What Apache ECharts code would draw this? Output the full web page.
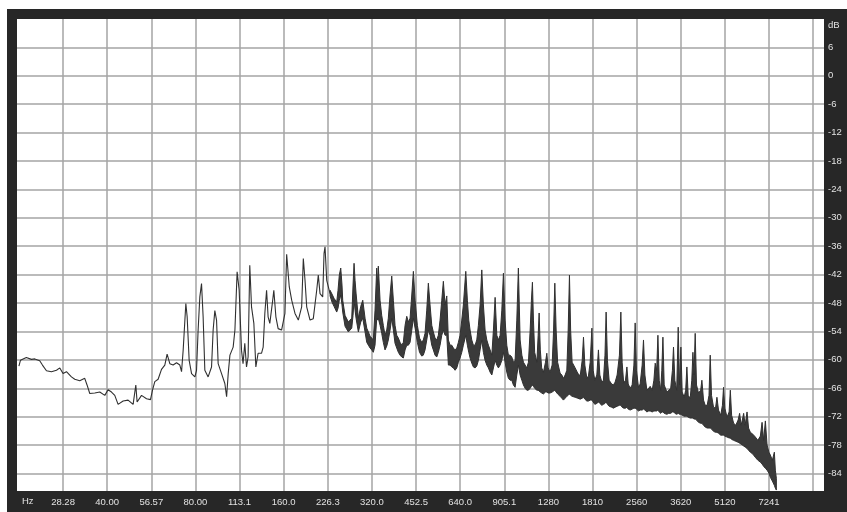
<!DOCTYPE html>
<html>
<head>
<meta charset="utf-8">
<script src="https://cdn.jsdelivr.net/npm/echarts@6/dist/echarts.min.js"></script>
<style>
  html, body { margin: 0; padding: 0; background: #ffffff; }
  #chart { width: 847px; height: 512px; }
</style>
</head>
<body>
<div id="chart"></div>
<script>
// Frequency grid (half-octave steps) and level grid
const tickHz = [28.28, 40.00, 56.57, 80.00, 113.1, 160.0, 226.3, 320.0, 452.5, 640.0, 905.1, 1280, 1810, 2560, 3620, 5120, 7241, 10240];
const tickLabels = ['28.28', '40.00', '56.57', '80.00', '113.1', '160.0', '226.3', '320.0', '452.5', '640.0', '905.1', '1280', '1810', '2560', '3620', '5120', '7241'];
const levelTicksDb = [6, 0, -6, -12, -18, -24, -30, -36, -42, -48, -54, -60, -66, -72, -78, -84];
const rangeHz = [19.7, 11150];
const rangeDb = [-87.7, 12];

// Low-frequency part of the spectrum: a single trace
const lowHz = [20.0, 20.24, 21.2, 22.07, 22.65, 23.55, 24.06, 24.83, 25.82, 26.86,
  27.57, 28.28, 29.05, 30.21, 31.01, 32.25, 33.54, 34.15, 34.89, 36.29,
  37.74, 39.26, 40.28, 41.38, 42.46, 43.58, 45.33, 47.14, 49.04, 50.09,
  50.6, 52.39, 54.49, 56.21, 57.11, 58.15, 59.68, 61.29, 62.9, 64.05,
  65.43, 67.15, 68.97, 70.78, 71.74, 72.65, 74.2, 74.97, 76.16, 77.61,
  79.65, 80.7, 81.72, 82.82, 83.93, 84.99, 86.14, 88.4, 90.8, 91.95,
  93.18, 94.44, 95.64, 98.23, 100.8, 102.2, 103.5, 104.9, 106.3, 107.6,
  109.1, 111.0, 112.8, 114.9, 116.3, 117.9, 119.5, 121.0, 122.6, 124.3,
  126.6, 128.6, 130.9, 134.5, 136.2, 138.0, 139.9, 141.6, 143.5, 146.6,
  148.1, 150.5, 153.2, 157.4, 161.6, 163.8, 167.2, 170.4, 174.9, 179.5,
  184.3, 186.7, 189.2, 191.7, 196.8, 201.9, 207.4, 210.0, 212.9, 217.4,
  219.7, 221.4, 224.4, 230.3];
const lowDb = [-61.3, -60.1, -59.5, -59.9, -59.8, -60.2, -61.1, -62.3, -62.5, -62.2,
  -61.7, -62.9, -62.5, -63.6, -64.1, -64.4, -63.9, -65.3, -67.1, -67.0,
  -66.8, -67.5, -66.3, -66.8, -67.5, -69.4, -68.7, -68.5, -69.4, -65.3,
  -68.9, -67.5, -68.2, -68.4, -66.4, -64.6, -64.1, -62.0, -61.1, -58.8,
  -60.8, -61.1, -60.6, -61.1, -62.5, -58.0, -48.1, -50.9, -60.1, -62.9,
  -63.6, -62.2, -53.7, -46.7, -43.9, -50.9, -62.2, -63.6, -61.5, -53.7,
  -49.6, -51.6, -60.8, -62.9, -65.0, -67.8, -62.9, -59.0, -59.4, -57.3,
  -53.7, -41.4, -45.3, -58.0, -60.8, -56.5, -61.5, -59.4, -40.0, -48.8,
  -52.3, -61.5, -58.6, -58.6, -57.3, -50.2, -45.3, -50.9, -52.3, -47.7,
  -45.3, -50.9, -53.4, -53.7, -50.2, -37.7, -44.6, -47.4, -50.2, -51.6,
  -48.8, -38.6, -43.2, -48.8, -51.6, -51.3, -45.3, -42.1, -46.0, -46.7,
  -37.5, -36.1, -43.2, -46.0];

// Upper part of the spectrum: dense bins shown as a peak/floor envelope
const bandHz = [230.3, 233.9, 237.6, 242.7, 245.2, 247.7, 250.5, 253.0, 254.4, 259.1,
  265.9, 269.5, 273.1, 275.9, 278.1, 280.3, 282.5, 287.7, 293.1, 297.8,
  303.2, 307.3, 311.2, 315.4, 319.5, 323.6, 327.9, 332.3, 334.4, 336.5,
  341.1, 345.6, 350.0, 354.7, 359.5, 364.0, 369.0, 373.9, 378.7, 383.7,
  388.9, 393.8, 399.1, 404.5, 409.6, 415.2, 420.7, 426.1, 431.8, 437.6,
  443.2, 449.2, 457.2, 465.1, 473.2, 479.2, 485.7, 492.2, 498.5, 505.2,
  512.0, 518.4, 525.4, 532.5, 539.2, 546.5, 553.9, 560.9, 568.4, 576.1,
  583.4, 591.2, 599.2, 606.8, 615.0, 623.2, 631.1, 639.5, 648.1, 656.3,
  668.8, 677.3, 684.7, 691.8, 701.1, 710.0, 719.6, 729.2, 738.5, 748.4,
  758.5, 768.1, 778.4, 788.9, 798.9, 809.7, 820.6, 831.0, 842.2, 853.5,
  864.3, 875.9, 887.7, 899.0, 910.8, 923.0, 934.8, 947.3, 960.0, 972.3,
  985.4, 998.6, 1011, 1025, 1039, 1052, 1066, 1080, 1094, 1109,
  1120, 1129, 1138, 1149, 1169, 1181, 1190, 1201, 1214, 1231,
  1251, 1264, 1277, 1297, 1318, 1333, 1346, 1360, 1376, 1403,
  1422, 1440, 1460, 1479, 1495, 1510, 1524, 1542, 1579, 1611,
  1643, 1669, 1686, 1704, 1731, 1753, 1777, 1801, 1819, 1843,
  1872, 1896, 1917, 1947, 1972, 1996, 2014, 2035, 2062, 2103,
  2133, 2162, 2196, 2236, 2261, 2284, 2312, 2345, 2371, 2395,
  2433, 2471, 2505, 2530, 2556, 2597, 2631, 2673, 2701, 2731,
  2774, 2813, 2847, 2892, 2931, 2961, 2996, 3025, 3056, 3092,
  3119, 3146, 3178, 3246, 3293, 3345, 3390, 3419, 3455, 3506,
  3548, 3585, 3623, 3660, 3718, 3762, 3798, 3837, 3898, 3947,
  3982, 4016, 4054, 4096, 4161, 4233, 4273, 4328, 4386, 4455,
  4519, 4562, 4609, 4682, 4756, 4809, 4869, 4954, 5021, 5065,
  5116, 5206, 5292, 5342, 5397, 5483, 5578, 5680, 5747, 5816,
  5871, 5932, 6002, 6092, 6165, 6252, 6376, 6503, 6632, 6764,
  6855, 6942, 7035, 7130, 7232, 7316, 7432, 7549, 7609, 7669];
const bandPeakDb = [-45.3, -46.1, -47.0, -47.8, -45.3, -42.1, -40.6, -44.2, -47.4, -50.6,
  -52.0, -51.6, -51.2, -44.2, -39.6, -43.2, -45.9, -51.2, -48.7, -47.4,
  -51.2, -53.3, -54.1, -55.0, -55.4, -55.8, -49.5, -40.6, -44.2, -40.2,
  -47.4, -50.6, -52.7, -54.8, -53.7, -51.2, -46.3, -42.3, -47.4, -52.7,
  -54.8, -55.4, -56.3, -56.9, -56.3, -52.7, -50.8, -52.0, -51.2, -46.3,
  -41.3, -47.4, -52.7, -55.4, -56.3, -55.8, -54.4, -49.5, -43.8, -48.4,
  -52.7, -54.1, -55.4, -55.8, -54.8, -51.6, -47.4, -43.4, -48.4, -46.5,
  -55.8, -56.9, -56.9, -57.5, -57.9, -57.5, -56.3, -54.8, -51.6, -48.4,
  -41.3, -47.4, -51.6, -53.7, -55.8, -56.9, -56.9, -55.8, -52.7, -48.4,
  -41.0, -48.4, -53.7, -55.8, -56.9, -57.9, -59.0, -53.7, -46.8, -54.8,
  -55.8, -54.8, -49.5, -41.7, -51.6, -56.9, -59.0, -59.0, -59.4, -60.5,
  -60.1, -51.6, -40.6, -55.8, -59.0, -60.5, -61.1, -61.7, -60.5, -53.7,
  -47.4, -43.6, -51.6, -58.4, -60.5, -54.8, -50.1, -57.9, -61.7, -62.6,
  -60.5, -58.6, -61.7, -62.6, -61.1, -53.7, -43.8, -53.7, -60.5, -62.8,
  -63.2, -63.9, -63.2, -62.2, -53.7, -42.1, -53.7, -60.5, -61.7, -62.8,
  -63.4, -60.1, -55.2, -61.1, -63.9, -63.4, -60.5, -53.3, -62.2, -64.3,
  -63.2, -57.9, -63.2, -64.7, -64.3, -59.0, -49.9, -60.1, -64.3, -65.1,
  -65.3, -64.7, -63.2, -59.0, -49.9, -60.5, -64.9, -64.3, -61.5, -65.1,
  -66.0, -65.3, -61.1, -52.2, -62.2, -65.8, -65.1, -61.1, -55.8, -63.2,
  -66.4, -66.0, -65.6, -66.4, -64.3, -60.7, -62.2, -54.8, -64.3, -66.4,
  -62.2, -55.2, -65.3, -66.8, -66.4, -66.0, -62.2, -57.3, -64.3, -66.4,
  -53.1, -65.3, -57.3, -66.8, -67.9, -66.4, -61.5, -67.5, -68.1, -64.3,
  -58.4, -63.2, -54.4, -65.3, -67.0, -66.4, -64.3, -68.5, -69.6, -69.6,
  -67.5, -59.0, -67.5, -70.0, -70.2, -67.9, -70.6, -71.7, -69.6, -65.8,
  -70.2, -72.1, -71.0, -66.4, -71.7, -73.4, -73.8, -72.7, -71.3, -73.8,
  -72.7, -71.3, -73.8, -71.0, -74.4, -75.3, -75.7, -76.3, -77.0, -76.1,
  -73.2, -77.0, -72.9, -78.0, -79.5, -80.1, -81.2, -79.5, -83.3, -85.0];
const bandFloorDb = [-46.5, -47.8, -48.7, -49.9, -49.1, -47.4, -46.3, -48.4, -49.9, -52.9,
  -54.1, -53.7, -53.3, -50.6, -47.4, -49.5, -51.2, -54.1, -52.0, -51.2,
  -54.1, -56.3, -56.9, -57.5, -57.9, -58.4, -56.9, -51.2, -51.6, -51.2,
  -52.7, -54.4, -56.3, -57.9, -57.1, -55.8, -53.7, -51.2, -53.7, -56.5,
  -57.5, -58.4, -59.0, -59.4, -59.6, -57.9, -56.9, -56.9, -56.3, -53.7,
  -51.2, -53.3, -56.3, -58.4, -59.2, -59.0, -57.9, -55.8, -53.7, -54.8,
  -56.9, -57.9, -59.0, -59.4, -58.4, -56.9, -54.8, -53.7, -54.8, -54.8,
  -61.1, -61.1, -61.5, -61.7, -62.2, -61.7, -60.5, -59.6, -58.4, -56.9,
  -54.8, -56.9, -58.4, -59.6, -60.7, -61.5, -61.7, -61.3, -60.1, -57.9,
  -55.8, -58.4, -60.1, -61.1, -61.7, -62.6, -63.2, -61.7, -60.1, -61.1,
  -61.7, -61.1, -60.1, -58.4, -60.5, -62.6, -63.9, -64.3, -64.3, -65.3,
  -65.8, -63.2, -61.1, -63.2, -64.3, -65.3, -66.0, -66.4, -66.4, -66.0,
  -65.6, -65.3, -65.6, -66.0, -66.4, -66.4, -66.6, -66.8, -67.0, -67.2,
  -66.8, -66.8, -67.0, -67.0, -66.8, -66.6, -66.4, -66.8, -67.2, -67.7,
  -68.1, -68.5, -68.1, -67.7, -67.5, -67.2, -67.5, -67.7, -67.9, -68.1,
  -68.3, -68.1, -67.9, -68.3, -68.7, -68.7, -68.5, -68.5, -68.9, -69.4,
  -69.2, -68.9, -69.2, -69.6, -69.4, -69.2, -68.9, -69.4, -69.8, -70.0,
  -70.2, -70.0, -69.8, -69.6, -69.6, -70.0, -70.2, -70.2, -70.0, -70.4,
  -70.6, -70.4, -70.2, -70.2, -70.4, -70.8, -70.6, -70.6, -70.4, -70.6,
  -71.0, -70.8, -70.8, -71.0, -70.8, -70.8, -70.8, -70.6, -71.0, -71.3,
  -71.0, -71.0, -71.3, -71.5, -71.3, -71.3, -71.0, -71.0, -71.3, -71.5,
  -71.3, -71.5, -71.5, -71.7, -71.9, -71.9, -71.9, -72.1, -72.3, -72.3,
  -72.3, -72.5, -72.5, -72.7, -73.2, -73.4, -73.4, -73.8, -74.2, -74.4,
  -74.4, -74.4, -74.6, -75.1, -75.3, -75.3, -75.5, -75.9, -75.9, -75.9,
  -76.1, -76.3, -76.5, -76.5, -76.8, -77.0, -77.2, -77.4, -77.6, -77.8,
  -78.0, -78.2, -78.4, -78.7, -79.1, -79.5, -79.9, -80.6, -81.2, -81.6,
  -82.0, -82.5, -82.9, -83.3, -83.9, -84.8, -85.6, -86.5, -87.1, -87.5];

// Position on the logarithmic frequency axis, in half-octaves above 20 Hz
const halfOct = hz => 2 * Math.log2(hz / 20);
const tickPos = tickHz.map(halfOct);

const frameColor = '#272727';
const gridColor = '#a4a4a4';
const traceColor = '#303030';
const labelColor = '#e2e2e2';
const labelFont = 'Liberation Sans, Arial, sans-serif';

const chart = echarts.init(document.getElementById('chart'), null, { renderer: 'canvas' });

chart.setOption({
  animation: false,
  backgroundColor: frameColor,
  grid: {
    left: 17, top: 19, right: 23, bottom: 21,
    show: true, backgroundColor: '#ffffff', borderWidth: 0
  },
  xAxis: {
    type: 'value',
    min: halfOct(rangeHz[0]),
    max: halfOct(rangeHz[1]),
    axisLine: { show: false },
    axisTick: { show: false, customValues: tickPos },
    axisLabel: {
      customValues: tickPos.slice(0, tickLabels.length),
      margin: 6,
      color: labelColor,
      fontSize: 9.5,
      fontFamily: labelFont,
      formatter: v => {
        let best = 0;
        tickPos.forEach((p, i) => { if (Math.abs(p - v) < Math.abs(tickPos[best] - v)) best = i; });
        return tickLabels[best] || '';
      }
    },
    splitLine: { show: true, lineStyle: { color: gridColor, width: 1.5 } }
  },
  yAxis: {
    type: 'value',
    position: 'right',
    min: rangeDb[0],
    max: rangeDb[1],
    axisLine: { show: false },
    axisTick: { show: false, customValues: levelTicksDb },
    axisLabel: {
      customValues: levelTicksDb,
      margin: 4,
      color: labelColor,
      fontSize: 9.5,
      fontFamily: labelFont
    },
    splitLine: { show: true, lineStyle: { color: gridColor, width: 1.5 } }
  },
  graphic: [
    { type: 'rect', shape: { x: 0, y: 0, width: 847, height: 9 }, style: { fill: '#ffffff' }, silent: true },
    { type: 'rect', shape: { x: 0, y: 0, width: 7, height: 512 }, style: { fill: '#ffffff' }, silent: true },
    { type: 'text', left: 22, top: 496, style: { text: 'Hz', fill: labelColor, fontSize: 9.5, fontFamily: labelFont } },
    { type: 'text', left: 828, top: 20, style: { text: 'dB', fill: labelColor, fontSize: 9.5, fontFamily: labelFont } }
  ],
  series: [
    {
      type: 'line',
      data: lowHz.map((hz, i) => [halfOct(hz), lowDb[i]]),
      showSymbol: false,
      lineStyle: { color: traceColor, width: 1.1 },
      z: 3
    },
    {
      type: 'custom',
      data: bandHz.map((hz, i) => [halfOct(hz), bandPeakDb[i], bandFloorDb[i]]),
      encode: { x: 0, y: [1, 2] },
      clip: true,
      z: 3,
      renderItem: (params, api) => {
        if (params.dataIndexInside !== 0) return null;
        const n = params.dataInsideLength;
        const top = [], bottom = [];
        for (let j = 0; j < n; j++) {
          const x = api.value(0, j);
          top.push(api.coord([x, api.value(1, j)]));
          bottom.push(api.coord([x, api.value(2, j)]));
        }
        return {
          type: 'polygon',
          shape: { points: top.concat(bottom.reverse()) },
          style: { fill: '#3a3a3a', stroke: traceColor, lineWidth: 1, lineJoin: 'bevel' }
        };
      }
    }
  ]
});
</script>
</body>
</html>
